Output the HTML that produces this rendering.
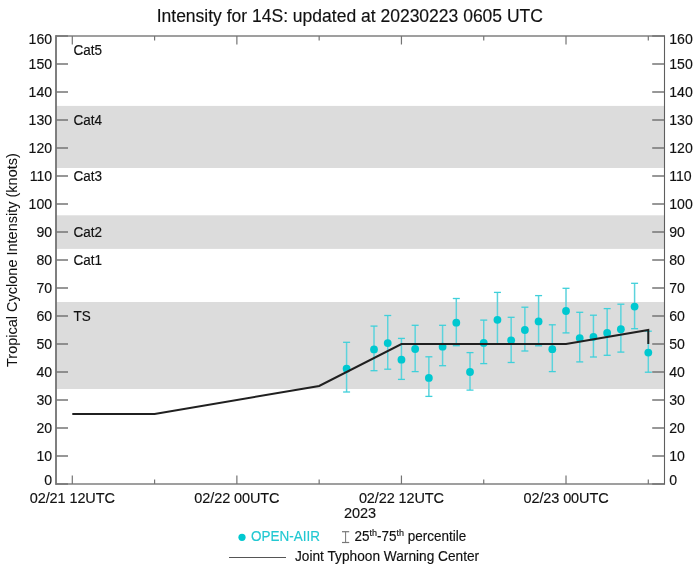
<!DOCTYPE html>
<html><head><meta charset="utf-8"><style>
html,body{margin:0;padding:0;background:#fff;width:699px;height:570px;overflow:hidden}
svg{display:block;will-change:transform}
text{font-family:"Liberation Sans", sans-serif}
</style></head><body>
<svg width="699" height="570" viewBox="0 0 699 570">
<rect width="699" height="570" fill="#fff"/>
<rect x="56.0" y="105.9" width="608.2" height="62.10" fill="#dcdcdc"/>
<rect x="56.0" y="215.3" width="608.2" height="33.60" fill="#dcdcdc"/>
<rect x="56.0" y="302.0" width="608.2" height="87.00" fill="#dcdcdc"/>
<line x1="346.59" y1="342.3" x2="346.59" y2="392.0" stroke="#5cd3dc" stroke-width="1.5"/>
<line x1="343.09" y1="342.3" x2="350.09" y2="342.3" stroke="#3fd0da" stroke-width="1.3"/>
<line x1="343.09" y1="392.0" x2="350.09" y2="392.0" stroke="#3fd0da" stroke-width="1.3"/>
<line x1="374.01" y1="326.1" x2="374.01" y2="370.7" stroke="#5cd3dc" stroke-width="1.5"/>
<line x1="370.51" y1="326.1" x2="377.51" y2="326.1" stroke="#3fd0da" stroke-width="1.3"/>
<line x1="370.51" y1="370.7" x2="377.51" y2="370.7" stroke="#3fd0da" stroke-width="1.3"/>
<line x1="387.73" y1="315.5" x2="387.73" y2="369.2" stroke="#5cd3dc" stroke-width="1.5"/>
<line x1="384.23" y1="315.5" x2="391.23" y2="315.5" stroke="#3fd0da" stroke-width="1.3"/>
<line x1="384.23" y1="369.2" x2="391.23" y2="369.2" stroke="#3fd0da" stroke-width="1.3"/>
<line x1="401.44" y1="338.4" x2="401.44" y2="379.4" stroke="#5cd3dc" stroke-width="1.5"/>
<line x1="397.94" y1="338.4" x2="404.94" y2="338.4" stroke="#3fd0da" stroke-width="1.3"/>
<line x1="397.94" y1="379.4" x2="404.94" y2="379.4" stroke="#3fd0da" stroke-width="1.3"/>
<line x1="415.16" y1="325.3" x2="415.16" y2="371.6" stroke="#5cd3dc" stroke-width="1.5"/>
<line x1="411.66" y1="325.3" x2="418.66" y2="325.3" stroke="#3fd0da" stroke-width="1.3"/>
<line x1="411.66" y1="371.6" x2="418.66" y2="371.6" stroke="#3fd0da" stroke-width="1.3"/>
<line x1="428.87" y1="356.8" x2="428.87" y2="396.4" stroke="#5cd3dc" stroke-width="1.5"/>
<line x1="425.37" y1="356.8" x2="432.37" y2="356.8" stroke="#3fd0da" stroke-width="1.3"/>
<line x1="425.37" y1="396.4" x2="432.37" y2="396.4" stroke="#3fd0da" stroke-width="1.3"/>
<line x1="442.59" y1="325.3" x2="442.59" y2="365.7" stroke="#5cd3dc" stroke-width="1.5"/>
<line x1="439.09" y1="325.3" x2="446.09" y2="325.3" stroke="#3fd0da" stroke-width="1.3"/>
<line x1="439.09" y1="365.7" x2="446.09" y2="365.7" stroke="#3fd0da" stroke-width="1.3"/>
<line x1="456.30" y1="298.5" x2="456.30" y2="345.7" stroke="#5cd3dc" stroke-width="1.5"/>
<line x1="452.80" y1="298.5" x2="459.80" y2="298.5" stroke="#3fd0da" stroke-width="1.3"/>
<line x1="452.80" y1="345.7" x2="459.80" y2="345.7" stroke="#3fd0da" stroke-width="1.3"/>
<line x1="470.01" y1="352.6" x2="470.01" y2="390.1" stroke="#5cd3dc" stroke-width="1.5"/>
<line x1="466.51" y1="352.6" x2="473.51" y2="352.6" stroke="#3fd0da" stroke-width="1.3"/>
<line x1="466.51" y1="390.1" x2="473.51" y2="390.1" stroke="#3fd0da" stroke-width="1.3"/>
<line x1="483.73" y1="320.1" x2="483.73" y2="363.6" stroke="#5cd3dc" stroke-width="1.5"/>
<line x1="480.23" y1="320.1" x2="487.23" y2="320.1" stroke="#3fd0da" stroke-width="1.3"/>
<line x1="480.23" y1="363.6" x2="487.23" y2="363.6" stroke="#3fd0da" stroke-width="1.3"/>
<line x1="497.44" y1="292.4" x2="497.44" y2="344.2" stroke="#5cd3dc" stroke-width="1.5"/>
<line x1="493.94" y1="292.4" x2="500.94" y2="292.4" stroke="#3fd0da" stroke-width="1.3"/>
<line x1="493.94" y1="344.2" x2="500.94" y2="344.2" stroke="#3fd0da" stroke-width="1.3"/>
<line x1="511.16" y1="317.3" x2="511.16" y2="362.5" stroke="#5cd3dc" stroke-width="1.5"/>
<line x1="507.66" y1="317.3" x2="514.66" y2="317.3" stroke="#3fd0da" stroke-width="1.3"/>
<line x1="507.66" y1="362.5" x2="514.66" y2="362.5" stroke="#3fd0da" stroke-width="1.3"/>
<line x1="524.87" y1="307.2" x2="524.87" y2="351.0" stroke="#5cd3dc" stroke-width="1.5"/>
<line x1="521.37" y1="307.2" x2="528.37" y2="307.2" stroke="#3fd0da" stroke-width="1.3"/>
<line x1="521.37" y1="351.0" x2="528.37" y2="351.0" stroke="#3fd0da" stroke-width="1.3"/>
<line x1="538.59" y1="295.6" x2="538.59" y2="345.8" stroke="#5cd3dc" stroke-width="1.5"/>
<line x1="535.09" y1="295.6" x2="542.09" y2="295.6" stroke="#3fd0da" stroke-width="1.3"/>
<line x1="535.09" y1="345.8" x2="542.09" y2="345.8" stroke="#3fd0da" stroke-width="1.3"/>
<line x1="552.30" y1="324.8" x2="552.30" y2="371.6" stroke="#5cd3dc" stroke-width="1.5"/>
<line x1="548.80" y1="324.8" x2="555.80" y2="324.8" stroke="#3fd0da" stroke-width="1.3"/>
<line x1="548.80" y1="371.6" x2="555.80" y2="371.6" stroke="#3fd0da" stroke-width="1.3"/>
<line x1="566.01" y1="288.3" x2="566.01" y2="332.9" stroke="#5cd3dc" stroke-width="1.5"/>
<line x1="562.51" y1="288.3" x2="569.51" y2="288.3" stroke="#3fd0da" stroke-width="1.3"/>
<line x1="562.51" y1="332.9" x2="569.51" y2="332.9" stroke="#3fd0da" stroke-width="1.3"/>
<line x1="579.73" y1="312.3" x2="579.73" y2="361.9" stroke="#5cd3dc" stroke-width="1.5"/>
<line x1="576.23" y1="312.3" x2="583.23" y2="312.3" stroke="#3fd0da" stroke-width="1.3"/>
<line x1="576.23" y1="361.9" x2="583.23" y2="361.9" stroke="#3fd0da" stroke-width="1.3"/>
<line x1="593.44" y1="315.2" x2="593.44" y2="357.0" stroke="#5cd3dc" stroke-width="1.5"/>
<line x1="589.94" y1="315.2" x2="596.94" y2="315.2" stroke="#3fd0da" stroke-width="1.3"/>
<line x1="589.94" y1="357.0" x2="596.94" y2="357.0" stroke="#3fd0da" stroke-width="1.3"/>
<line x1="607.16" y1="308.6" x2="607.16" y2="355.3" stroke="#5cd3dc" stroke-width="1.5"/>
<line x1="603.66" y1="308.6" x2="610.66" y2="308.6" stroke="#3fd0da" stroke-width="1.3"/>
<line x1="603.66" y1="355.3" x2="610.66" y2="355.3" stroke="#3fd0da" stroke-width="1.3"/>
<line x1="620.87" y1="304.2" x2="620.87" y2="352.1" stroke="#5cd3dc" stroke-width="1.5"/>
<line x1="617.37" y1="304.2" x2="624.37" y2="304.2" stroke="#3fd0da" stroke-width="1.3"/>
<line x1="617.37" y1="352.1" x2="624.37" y2="352.1" stroke="#3fd0da" stroke-width="1.3"/>
<line x1="634.59" y1="283.3" x2="634.59" y2="328.7" stroke="#5cd3dc" stroke-width="1.5"/>
<line x1="631.09" y1="283.3" x2="638.09" y2="283.3" stroke="#3fd0da" stroke-width="1.3"/>
<line x1="631.09" y1="328.7" x2="638.09" y2="328.7" stroke="#3fd0da" stroke-width="1.3"/>
<line x1="648.30" y1="331.2" x2="648.30" y2="372.2" stroke="#5cd3dc" stroke-width="1.5"/>
<line x1="644.80" y1="331.2" x2="651.80" y2="331.2" stroke="#3fd0da" stroke-width="1.3"/>
<line x1="644.80" y1="372.2" x2="651.80" y2="372.2" stroke="#3fd0da" stroke-width="1.3"/>
<circle cx="346.59" cy="368.7" r="3.9" fill="#00c8d0"/>
<circle cx="374.01" cy="349.4" r="3.9" fill="#00c8d0"/>
<circle cx="387.73" cy="343.1" r="3.9" fill="#00c8d0"/>
<circle cx="401.44" cy="359.7" r="3.9" fill="#00c8d0"/>
<circle cx="415.16" cy="349.0" r="3.9" fill="#00c8d0"/>
<circle cx="428.87" cy="377.9" r="3.9" fill="#00c8d0"/>
<circle cx="442.59" cy="346.7" r="3.9" fill="#00c8d0"/>
<circle cx="456.30" cy="322.7" r="3.9" fill="#00c8d0"/>
<circle cx="470.01" cy="372.0" r="3.9" fill="#00c8d0"/>
<circle cx="483.73" cy="342.9" r="3.9" fill="#00c8d0"/>
<circle cx="497.44" cy="319.8" r="3.9" fill="#00c8d0"/>
<circle cx="511.16" cy="340.3" r="3.9" fill="#00c8d0"/>
<circle cx="524.87" cy="330.0" r="3.9" fill="#00c8d0"/>
<circle cx="538.59" cy="321.4" r="3.9" fill="#00c8d0"/>
<circle cx="552.30" cy="349.2" r="3.9" fill="#00c8d0"/>
<circle cx="566.01" cy="311.0" r="3.9" fill="#00c8d0"/>
<circle cx="579.73" cy="338.1" r="3.9" fill="#00c8d0"/>
<circle cx="593.44" cy="336.8" r="3.9" fill="#00c8d0"/>
<circle cx="607.16" cy="332.9" r="3.9" fill="#00c8d0"/>
<circle cx="620.87" cy="329.2" r="3.9" fill="#00c8d0"/>
<circle cx="634.59" cy="306.6" r="3.9" fill="#00c8d0"/>
<circle cx="648.30" cy="352.6" r="3.9" fill="#00c8d0"/>
<polyline points="72.30,414.00 154.59,414.00 319.16,386.00 401.44,344.00 566.01,344.00 648.30,330.00 648.30,344.00" fill="none" stroke="#202020" stroke-width="2.0" stroke-linejoin="miter"/>
<path d="M664.20,36.0 H56.0 V484.0 H664.20" fill="none" stroke="#808080" stroke-width="1.5"/>
<line x1="56.0" y1="35.25" x2="56.0" y2="484.75" stroke="#747474" stroke-width="1.5"/>
<line x1="664.5" y1="35.25" x2="664.5" y2="484.75" stroke="#5e5e5e" stroke-width="1.1"/>
<line x1="56.0" y1="484.00" x2="68.0" y2="484.00" stroke="#747474" stroke-width="1.5"/>
<line x1="652.20" y1="484.00" x2="664.2" y2="484.00" stroke="#747474" stroke-width="1.5"/>
<line x1="56.0" y1="456.00" x2="68.0" y2="456.00" stroke="#747474" stroke-width="1.5"/>
<line x1="652.20" y1="456.00" x2="664.2" y2="456.00" stroke="#747474" stroke-width="1.5"/>
<line x1="56.0" y1="428.00" x2="68.0" y2="428.00" stroke="#747474" stroke-width="1.5"/>
<line x1="652.20" y1="428.00" x2="664.2" y2="428.00" stroke="#747474" stroke-width="1.5"/>
<line x1="56.0" y1="400.00" x2="68.0" y2="400.00" stroke="#747474" stroke-width="1.5"/>
<line x1="652.20" y1="400.00" x2="664.2" y2="400.00" stroke="#747474" stroke-width="1.5"/>
<line x1="56.0" y1="372.00" x2="68.0" y2="372.00" stroke="#747474" stroke-width="1.5"/>
<line x1="652.20" y1="372.00" x2="664.2" y2="372.00" stroke="#747474" stroke-width="1.5"/>
<line x1="56.0" y1="344.00" x2="68.0" y2="344.00" stroke="#747474" stroke-width="1.5"/>
<line x1="652.20" y1="344.00" x2="664.2" y2="344.00" stroke="#747474" stroke-width="1.5"/>
<line x1="56.0" y1="316.00" x2="68.0" y2="316.00" stroke="#747474" stroke-width="1.5"/>
<line x1="652.20" y1="316.00" x2="664.2" y2="316.00" stroke="#747474" stroke-width="1.5"/>
<line x1="56.0" y1="288.00" x2="68.0" y2="288.00" stroke="#747474" stroke-width="1.5"/>
<line x1="652.20" y1="288.00" x2="664.2" y2="288.00" stroke="#747474" stroke-width="1.5"/>
<line x1="56.0" y1="260.00" x2="68.0" y2="260.00" stroke="#747474" stroke-width="1.5"/>
<line x1="652.20" y1="260.00" x2="664.2" y2="260.00" stroke="#747474" stroke-width="1.5"/>
<line x1="56.0" y1="232.00" x2="68.0" y2="232.00" stroke="#747474" stroke-width="1.5"/>
<line x1="652.20" y1="232.00" x2="664.2" y2="232.00" stroke="#747474" stroke-width="1.5"/>
<line x1="56.0" y1="204.00" x2="68.0" y2="204.00" stroke="#747474" stroke-width="1.5"/>
<line x1="652.20" y1="204.00" x2="664.2" y2="204.00" stroke="#747474" stroke-width="1.5"/>
<line x1="56.0" y1="176.00" x2="68.0" y2="176.00" stroke="#747474" stroke-width="1.5"/>
<line x1="652.20" y1="176.00" x2="664.2" y2="176.00" stroke="#747474" stroke-width="1.5"/>
<line x1="56.0" y1="148.00" x2="68.0" y2="148.00" stroke="#747474" stroke-width="1.5"/>
<line x1="652.20" y1="148.00" x2="664.2" y2="148.00" stroke="#747474" stroke-width="1.5"/>
<line x1="56.0" y1="120.00" x2="68.0" y2="120.00" stroke="#747474" stroke-width="1.5"/>
<line x1="652.20" y1="120.00" x2="664.2" y2="120.00" stroke="#747474" stroke-width="1.5"/>
<line x1="56.0" y1="92.00" x2="68.0" y2="92.00" stroke="#747474" stroke-width="1.5"/>
<line x1="652.20" y1="92.00" x2="664.2" y2="92.00" stroke="#747474" stroke-width="1.5"/>
<line x1="56.0" y1="64.00" x2="68.0" y2="64.00" stroke="#747474" stroke-width="1.5"/>
<line x1="652.20" y1="64.00" x2="664.2" y2="64.00" stroke="#747474" stroke-width="1.5"/>
<line x1="56.0" y1="36.00" x2="68.0" y2="36.00" stroke="#747474" stroke-width="1.5"/>
<line x1="652.20" y1="36.00" x2="664.2" y2="36.00" stroke="#747474" stroke-width="1.5"/>
<line x1="72.30" y1="484.0" x2="72.30" y2="475.5" stroke="#747474" stroke-width="1.2"/>
<line x1="72.30" y1="36.0" x2="72.30" y2="44.5" stroke="#747474" stroke-width="1.2"/>
<line x1="154.59" y1="484.0" x2="154.59" y2="479.5" stroke="#747474" stroke-width="1.2"/>
<line x1="154.59" y1="36.0" x2="154.59" y2="40.5" stroke="#747474" stroke-width="1.2"/>
<line x1="236.87" y1="484.0" x2="236.87" y2="475.5" stroke="#747474" stroke-width="1.2"/>
<line x1="236.87" y1="36.0" x2="236.87" y2="44.5" stroke="#747474" stroke-width="1.2"/>
<line x1="319.16" y1="484.0" x2="319.16" y2="479.5" stroke="#747474" stroke-width="1.2"/>
<line x1="319.16" y1="36.0" x2="319.16" y2="40.5" stroke="#747474" stroke-width="1.2"/>
<line x1="401.44" y1="484.0" x2="401.44" y2="475.5" stroke="#747474" stroke-width="1.2"/>
<line x1="401.44" y1="36.0" x2="401.44" y2="44.5" stroke="#747474" stroke-width="1.2"/>
<line x1="483.73" y1="484.0" x2="483.73" y2="479.5" stroke="#747474" stroke-width="1.2"/>
<line x1="483.73" y1="36.0" x2="483.73" y2="40.5" stroke="#747474" stroke-width="1.2"/>
<line x1="566.01" y1="484.0" x2="566.01" y2="475.5" stroke="#747474" stroke-width="1.2"/>
<line x1="566.01" y1="36.0" x2="566.01" y2="44.5" stroke="#747474" stroke-width="1.2"/>
<line x1="648.30" y1="484.0" x2="648.30" y2="479.5" stroke="#747474" stroke-width="1.2"/>
<line x1="648.30" y1="36.0" x2="648.30" y2="40.5" stroke="#747474" stroke-width="1.2"/>
<g transform="translate(52.20,484.60) scale(0.975,1.04)"><text x="0" y="0" text-anchor="end" font-size="14.5" fill="#111111" stroke="#111111" stroke-width="0.15">0</text></g>
<g transform="translate(669.20,484.60) scale(0.975,1.04)"><text x="0" y="0" font-size="14.5" fill="#111111" stroke="#111111" stroke-width="0.15">0</text></g>
<g transform="translate(52.20,461.40) scale(0.975,1.04)"><text x="0" y="0" text-anchor="end" font-size="14.5" fill="#111111" stroke="#111111" stroke-width="0.15">10</text></g>
<g transform="translate(669.20,461.40) scale(0.975,1.04)"><text x="0" y="0" font-size="14.5" fill="#111111" stroke="#111111" stroke-width="0.15">10</text></g>
<g transform="translate(52.20,433.40) scale(0.975,1.04)"><text x="0" y="0" text-anchor="end" font-size="14.5" fill="#111111" stroke="#111111" stroke-width="0.15">20</text></g>
<g transform="translate(669.20,433.40) scale(0.975,1.04)"><text x="0" y="0" font-size="14.5" fill="#111111" stroke="#111111" stroke-width="0.15">20</text></g>
<g transform="translate(52.20,405.40) scale(0.975,1.04)"><text x="0" y="0" text-anchor="end" font-size="14.5" fill="#111111" stroke="#111111" stroke-width="0.15">30</text></g>
<g transform="translate(669.20,405.40) scale(0.975,1.04)"><text x="0" y="0" font-size="14.5" fill="#111111" stroke="#111111" stroke-width="0.15">30</text></g>
<g transform="translate(52.20,377.40) scale(0.975,1.04)"><text x="0" y="0" text-anchor="end" font-size="14.5" fill="#111111" stroke="#111111" stroke-width="0.15">40</text></g>
<g transform="translate(669.20,377.40) scale(0.975,1.04)"><text x="0" y="0" font-size="14.5" fill="#111111" stroke="#111111" stroke-width="0.15">40</text></g>
<g transform="translate(52.20,349.40) scale(0.975,1.04)"><text x="0" y="0" text-anchor="end" font-size="14.5" fill="#111111" stroke="#111111" stroke-width="0.15">50</text></g>
<g transform="translate(669.20,349.40) scale(0.975,1.04)"><text x="0" y="0" font-size="14.5" fill="#111111" stroke="#111111" stroke-width="0.15">50</text></g>
<g transform="translate(52.20,321.40) scale(0.975,1.04)"><text x="0" y="0" text-anchor="end" font-size="14.5" fill="#111111" stroke="#111111" stroke-width="0.15">60</text></g>
<g transform="translate(669.20,321.40) scale(0.975,1.04)"><text x="0" y="0" font-size="14.5" fill="#111111" stroke="#111111" stroke-width="0.15">60</text></g>
<g transform="translate(52.20,293.40) scale(0.975,1.04)"><text x="0" y="0" text-anchor="end" font-size="14.5" fill="#111111" stroke="#111111" stroke-width="0.15">70</text></g>
<g transform="translate(669.20,293.40) scale(0.975,1.04)"><text x="0" y="0" font-size="14.5" fill="#111111" stroke="#111111" stroke-width="0.15">70</text></g>
<g transform="translate(52.20,265.40) scale(0.975,1.04)"><text x="0" y="0" text-anchor="end" font-size="14.5" fill="#111111" stroke="#111111" stroke-width="0.15">80</text></g>
<g transform="translate(669.20,265.40) scale(0.975,1.04)"><text x="0" y="0" font-size="14.5" fill="#111111" stroke="#111111" stroke-width="0.15">80</text></g>
<g transform="translate(52.20,237.40) scale(0.975,1.04)"><text x="0" y="0" text-anchor="end" font-size="14.5" fill="#111111" stroke="#111111" stroke-width="0.15">90</text></g>
<g transform="translate(669.20,237.40) scale(0.975,1.04)"><text x="0" y="0" font-size="14.5" fill="#111111" stroke="#111111" stroke-width="0.15">90</text></g>
<g transform="translate(52.20,209.40) scale(0.975,1.04)"><text x="0" y="0" text-anchor="end" font-size="14.5" fill="#111111" stroke="#111111" stroke-width="0.15">100</text></g>
<g transform="translate(669.20,209.40) scale(0.975,1.04)"><text x="0" y="0" font-size="14.5" fill="#111111" stroke="#111111" stroke-width="0.15">100</text></g>
<g transform="translate(52.20,181.40) scale(0.975,1.04)"><text x="0" y="0" text-anchor="end" font-size="14.5" fill="#111111" stroke="#111111" stroke-width="0.15">110</text></g>
<g transform="translate(669.20,181.40) scale(0.975,1.04)"><text x="0" y="0" font-size="14.5" fill="#111111" stroke="#111111" stroke-width="0.15">110</text></g>
<g transform="translate(52.20,153.40) scale(0.975,1.04)"><text x="0" y="0" text-anchor="end" font-size="14.5" fill="#111111" stroke="#111111" stroke-width="0.15">120</text></g>
<g transform="translate(669.20,153.40) scale(0.975,1.04)"><text x="0" y="0" font-size="14.5" fill="#111111" stroke="#111111" stroke-width="0.15">120</text></g>
<g transform="translate(52.20,125.40) scale(0.975,1.04)"><text x="0" y="0" text-anchor="end" font-size="14.5" fill="#111111" stroke="#111111" stroke-width="0.15">130</text></g>
<g transform="translate(669.20,125.40) scale(0.975,1.04)"><text x="0" y="0" font-size="14.5" fill="#111111" stroke="#111111" stroke-width="0.15">130</text></g>
<g transform="translate(52.20,97.40) scale(0.975,1.04)"><text x="0" y="0" text-anchor="end" font-size="14.5" fill="#111111" stroke="#111111" stroke-width="0.15">140</text></g>
<g transform="translate(669.20,97.40) scale(0.975,1.04)"><text x="0" y="0" font-size="14.5" fill="#111111" stroke="#111111" stroke-width="0.15">140</text></g>
<g transform="translate(52.20,69.40) scale(0.975,1.04)"><text x="0" y="0" text-anchor="end" font-size="14.5" fill="#111111" stroke="#111111" stroke-width="0.15">150</text></g>
<g transform="translate(669.20,69.40) scale(0.975,1.04)"><text x="0" y="0" font-size="14.5" fill="#111111" stroke="#111111" stroke-width="0.15">150</text></g>
<g transform="translate(52.20,44.20) scale(0.975,1.04)"><text x="0" y="0" text-anchor="end" font-size="14.5" fill="#111111" stroke="#111111" stroke-width="0.15">160</text></g>
<g transform="translate(669.20,44.20) scale(0.975,1.04)"><text x="0" y="0" font-size="14.5" fill="#111111" stroke="#111111" stroke-width="0.15">160</text></g>
<g transform="translate(73.50,54.60) scale(1.0,1.08)"><text x="0" y="0" font-size="13.5" fill="#111111" stroke="#111111" stroke-width="0.15">Cat5</text></g>
<g transform="translate(73.50,124.60) scale(1.0,1.08)"><text x="0" y="0" font-size="13.5" fill="#111111" stroke="#111111" stroke-width="0.15">Cat4</text></g>
<g transform="translate(73.50,180.60) scale(1.0,1.08)"><text x="0" y="0" font-size="13.5" fill="#111111" stroke="#111111" stroke-width="0.15">Cat3</text></g>
<g transform="translate(73.50,236.60) scale(1.0,1.08)"><text x="0" y="0" font-size="13.5" fill="#111111" stroke="#111111" stroke-width="0.15">Cat2</text></g>
<g transform="translate(73.50,264.60) scale(1.0,1.08)"><text x="0" y="0" font-size="13.5" fill="#111111" stroke="#111111" stroke-width="0.15">Cat1</text></g>
<g transform="translate(73.50,320.60) scale(1.0,1.08)"><text x="0" y="0" font-size="13.5" fill="#111111" stroke="#111111" stroke-width="0.15">TS</text></g>
<g transform="translate(72.30,503.00) scale(1.0,1.03)"><text x="0" y="0" text-anchor="middle" font-size="14.5" fill="#111111" letter-spacing="-0.1" stroke="#111111" stroke-width="0.15">02/21 12UTC</text></g>
<g transform="translate(236.87,503.00) scale(1.0,1.03)"><text x="0" y="0" text-anchor="middle" font-size="14.5" fill="#111111" letter-spacing="-0.1" stroke="#111111" stroke-width="0.15">02/22 00UTC</text></g>
<g transform="translate(401.44,503.00) scale(1.0,1.03)"><text x="0" y="0" text-anchor="middle" font-size="14.5" fill="#111111" letter-spacing="-0.1" stroke="#111111" stroke-width="0.15">02/22 12UTC</text></g>
<g transform="translate(566.01,503.00) scale(1.0,1.03)"><text x="0" y="0" text-anchor="middle" font-size="14.5" fill="#111111" letter-spacing="-0.1" stroke="#111111" stroke-width="0.15">02/23 00UTC</text></g>
<g transform="translate(360.00,518.00) scale(1.0,1.03)"><text x="0" y="0" text-anchor="middle" font-size="14.5" fill="#111111" stroke="#111111" stroke-width="0.15">2023</text></g>
<text x="349.80" y="22.00" text-anchor="middle" font-size="17.5" fill="#111111" stroke="#111111" stroke-width="0.15">Intensity for 14S: updated at 20230223 0605 UTC</text>
<text transform="translate(16.7,367) rotate(-90)" x="0" y="0" font-size="14.5" fill="#111111" stroke="#111111" stroke-width="0.05">Tropical Cyclone Intensity (knots)</text>
<circle cx="242" cy="537.3" r="3.6" fill="#00c8d0"/>
<g transform="translate(251.00,541.00) scale(1.0,1.1)"><text x="0" y="0" font-size="13.5" fill="#22c8d2" stroke="#22c8d2" stroke-width="0.15">OPEN-AIIR</text></g>
<line x1="345.6" y1="531.7" x2="345.6" y2="542.5" stroke="#777" stroke-width="1"/>
<line x1="342" y1="531.7" x2="349.2" y2="531.7" stroke="#777" stroke-width="1.2"/>
<line x1="342" y1="542.5" x2="349.2" y2="542.5" stroke="#777" stroke-width="1.2"/>
<g transform="translate(354.50,541.00) scale(1.0,1.1)"><text x="0" y="0" font-size="13.5" fill="#111111" stroke="#111111" stroke-width="0.15">25<tspan font-size="9" dy="-5">th</tspan><tspan dy="5">-75</tspan><tspan font-size="9" dy="-5">th</tspan><tspan dy="5"> percentile</tspan></text></g>
<line x1="229" y1="557.5" x2="286" y2="557.5" stroke="#555" stroke-width="1"/>
<g transform="translate(295.00,561.00) scale(1.0,1.08)"><text x="0" y="0" font-size="13.7" fill="#111111" stroke="#111111" stroke-width="0.15">Joint Typhoon Warning Center</text></g>
</svg></body></html>
